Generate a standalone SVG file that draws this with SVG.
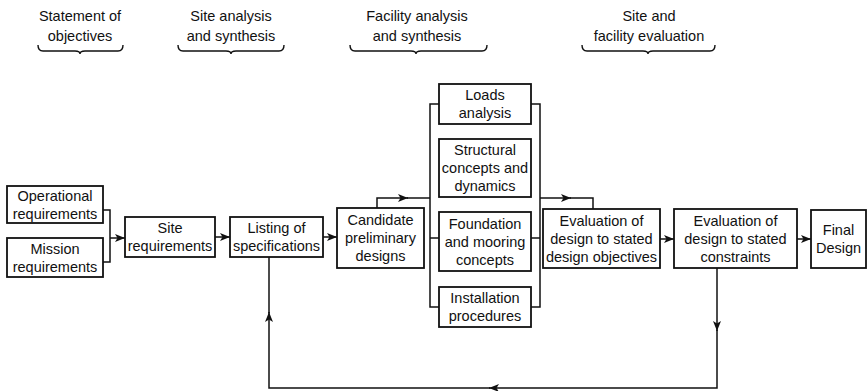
<svg xmlns="http://www.w3.org/2000/svg" width="868" height="391" viewBox="0 0 868 391">
<style>
  text { font-family: "Liberation Sans", Arial, sans-serif; font-size: 14.5px; fill: #111; text-anchor: middle; }
  .box { fill: #fff; stroke: #111; stroke-width: 1.8; }
  .ln { fill: none; stroke: #111; stroke-width: 1.5; }
  .brace { fill: none; stroke: #111; stroke-width: 1.4; }
</style>
<defs>
  <marker id="ah" viewBox="0 0 10 8" refX="10" refY="4" markerWidth="10" markerHeight="8" markerUnits="userSpaceOnUse" orient="auto">
    <path d="M0,0 L10,4 L0,8 L2.5,4 z" fill="#111"/>
  </marker>
</defs>
<rect width="868" height="391" fill="#fff"/>

<g id="headers">
  <text x="80" y="21">Statement of</text>
  <text x="80" y="41">objectives</text>
  <path class="brace" d="M38,45 Q38,51 43,51 H75 Q80,51 80,54 Q80,51 85,51 H118 Q123,51 123,45"/>
  <text x="231" y="21">Site analysis</text>
  <text x="231" y="41">and synthesis</text>
  <path class="brace" d="M178,45 Q178,51 183,51 H226 Q231,51 231,54 Q231,51 236,51 H279 Q284,51 284,45"/>
  <text x="417" y="21">Facility analysis</text>
  <text x="417" y="41">and synthesis</text>
  <path class="brace" d="M350,45 Q350,51 355,51 H411 Q416,51 416,54 Q416,51 421,51 H482 Q487,51 487,45"/>
  <text x="649" y="21">Site and</text>
  <text x="649" y="41">facility evaluation</text>
  <path class="brace" d="M582,45 Q582,51 587,51 H643 Q648,51 648,54 Q648,51 653,51 H710 Q715,51 715,45"/>
</g>

<g id="connectors">
  <path class="ln" d="M103,210 H110 V262 H103"/>
  <path class="ln" d="M110,238 H125" marker-end="url(#ah)"/>
  <path class="ln" d="M215,237 H230" marker-end="url(#ah)"/>
  <path class="ln" d="M323,237 H337" marker-end="url(#ah)"/>
  <path class="ln" d="M377,208 V198 H408" marker-end="url(#ah)"/>
  <path class="ln" d="M407,198 H430"/>
  <path class="ln" d="M439,104 H430 V307 H439"/>
  <path class="ln" d="M430,238 H439"/>
  <path class="ln" d="M531,104 H540 V307 H531"/>
  <path class="ln" d="M531,238 H540"/>
  <path class="ln" d="M540,198 H571" marker-end="url(#ah)"/>
  <path class="ln" d="M570,198 H593 V209"/>
  <path class="ln" d="M660,239 H674" marker-end="url(#ah)"/>
  <path class="ln" d="M797,239 H811" marker-end="url(#ah)"/>
  <path class="ln" d="M717,268 V331" marker-end="url(#ah)"/>
  <path class="ln" d="M717,330 V388 H489" marker-end="url(#ah)"/>
  <path class="ln" d="M490,388 H269 V312" marker-end="url(#ah)"/>
  <path class="ln" d="M269,313 V257"/>
</g>

<g id="operational">
  <rect class="box" x="7" y="186" width="96" height="37"/>
  <text x="55" y="201">Operational</text>
  <text x="55" y="219">requirements</text>
</g>
<g id="mission">
  <rect class="box" x="7" y="238" width="96" height="39"/>
  <text x="55" y="254">Mission</text>
  <text x="55" y="272">requirements</text>
</g>
<g id="site">
  <rect class="box" x="125" y="217" width="90" height="40"/>
  <text x="170" y="233">Site</text>
  <text x="170" y="251">requirements</text>
</g>
<g id="listing">
  <rect class="box" x="230" y="217" width="93" height="40"/>
  <text x="276.5" y="233">Listing of</text>
  <text x="276.5" y="251">specifications</text>
</g>
<g id="candidate">
  <rect class="box" x="337" y="208" width="87" height="60"/>
  <text x="380.5" y="225">Candidate</text>
  <text x="380.5" y="243">preliminary</text>
  <text x="380.5" y="261">designs</text>
</g>
<g id="loads">
  <rect class="box" x="439" y="84" width="92" height="40"/>
  <text x="485" y="100">Loads</text>
  <text x="485" y="118">analysis</text>
</g>
<g id="structural">
  <rect class="box" x="439" y="139" width="92" height="58"/>
  <text x="485" y="155">Structural</text>
  <text x="485" y="173">concepts and</text>
  <text x="485" y="191">dynamics</text>
</g>
<g id="foundation">
  <rect class="box" x="439" y="212" width="92" height="59"/>
  <text x="485" y="228.5">Foundation</text>
  <text x="485" y="246.5">and mooring</text>
  <text x="485" y="264.5">concepts</text>
</g>
<g id="installation">
  <rect class="box" x="439" y="287" width="92" height="40"/>
  <text x="485" y="303">Installation</text>
  <text x="485" y="321">procedures</text>
</g>
<g id="eval-objectives">
  <rect class="box" x="543" y="209" width="117" height="59"/>
  <text x="601.5" y="225.5">Evaluation of</text>
  <text x="601.5" y="243.5">design to stated</text>
  <text x="601.5" y="261.5">design objectives</text>
</g>
<g id="eval-constraints">
  <rect class="box" x="674" y="209" width="123" height="59"/>
  <text x="735.5" y="225.5">Evaluation of</text>
  <text x="735.5" y="243.5">design to stated</text>
  <text x="735.5" y="261.5">constraints</text>
</g>
<g id="final">
  <rect class="box" x="811" y="210" width="55" height="58"/>
  <text x="838.5" y="235">Final</text>
  <text x="838.5" y="253">Design</text>
</g>
</svg>
